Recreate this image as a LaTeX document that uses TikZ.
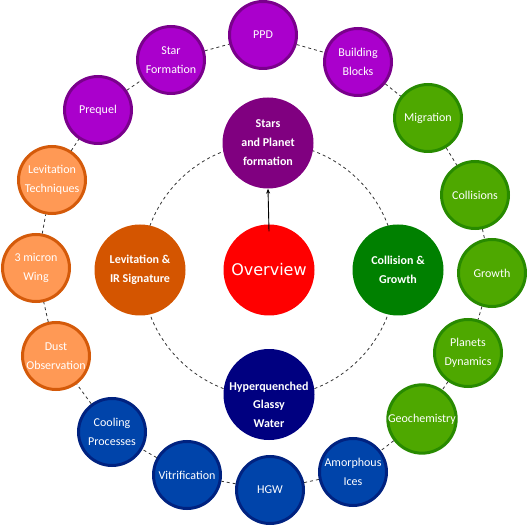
\documentclass[tikz,border=0pt]{standalone}
\usepackage{fontspec}
\setmainfont{Carlito}
\newfontfamily\ovfont{DejaVu Sans}
\usetikzlibrary{arrows.meta}
\definecolor{purF}{RGB}{170,0,204}
\definecolor{purD}{RGB}{122,0,140}
\definecolor{purI}{RGB}{128,0,128}
\definecolor{grnF}{RGB}{78,168,0}
\definecolor{grnD}{RGB}{40,138,0}
\definecolor{grnI}{RGB}{0,128,0}
\definecolor{orgF}{RGB}{255,153,85}
\definecolor{orgD}{RGB}{212,90,10}
\definecolor{orgI}{RGB}{212,85,0}
\definecolor{bluF}{RGB}{0,68,170}
\definecolor{bluD}{RGB}{0,34,128}
\definecolor{bluI}{RGB}{0,0,128}
\begin{document}
\begin{tikzpicture}[x=1pt,y=-1pt,
  outer/.style={circle, minimum size=67pt, inner sep=0pt, line width=3pt, text=white,
    font=\fontsize{12}{19}\selectfont, align=center},
  pur/.style={outer, fill=purF, draw=purD},
  grn/.style={outer, fill=grnF, draw=grnD},
  org/.style={outer, fill=orgF, draw=orgD},
  blu/.style={outer, fill=bluF, draw=bluD},
  innerc/.style={circle, minimum size=91pt, inner sep=0pt, text=white,
    font=\bfseries\fontsize{12}{19}\selectfont, align=center},
  ring/.style={draw=black!80, line width=0.8pt, dash pattern=on 3pt off 3pt},
]
\useasboundingbox (0,0) rectangle (527,526);
% inner dashed circle
\draw[ring] (269,270) circle[radius=127];
% outer ring nodes
\node[pur] (ppd) at (263,35) {PPD};
\node[pur] (bb) at (358,62) {Building\\Blocks};
\node[grn] (mig) at (428,118) {Migration};
\node[grn] (col) at (475,195) {Collisions};
\node[grn] (gro) at (492,273) {Growth};
\node[grn] (pla) at (468,353) {Planets\\Dynamics};
\node[grn] (geo) at (422,419) {Geochemistry};
\node[blu] (amo) at (353,472) {Amorphous\\Ices};
\node[blu] (hgw) at (270,490) {HGW};
\node[blu] (vit) at (187,475) {Vitrification};
\node[blu] (coo) at (112,432) {Cooling\\Processes};
\node[org] (dus) at (56,356) {Dust\\Observation};
\node[org] (mic) at (36,268) {3 micron\\Wing};
\node[org] (lte) at (52,180) {Levitation\\Techniques};
\node[pur] (pre) at (98,110) {Prequel};
\node[pur] (stf) at (171,60) {Star\\Formation};
% outer ring connectors
\foreach \a/\b in {ppd/bb, bb/mig, mig/col, col/gro, gro/pla, pla/geo, geo/amo, amo/hgw,
  hgw/vit, vit/coo, coo/dus, dus/mic, mic/lte, lte/pre, pre/stf, stf/ppd}
  \draw[ring] (\a) -- (\b);
% inner nodes
\node[innerc, fill=purI] (stars) at (268,143) {Stars\\and Planet\\formation};
\node[innerc, fill=orgI] (lev) at (140,270) {Levitation \&\\IR Signature};
\node[innerc, fill=grnI] (cg) at (398,270) {Collision \&\\Growth};
\node[innerc, fill=bluI,
  label={[yshift=-10pt, text=white, font=\bfseries\fontsize{12}{18.5}\selectfont, align=center]center:Hyperquenched\\Glassy\\Water}]
  (hyp) at (269,394.5) {};
\node[innerc, fill=red, font=\ovfont\fontsize{16}{19}\selectfont] (ov) at (269,270) {Overview};
\draw[line width=0.9pt, -{Stealth[length=5pt,width=4pt]}] ([yshift=-7pt]ov.north) -- (stars.south);
\end{tikzpicture}
\end{document}
